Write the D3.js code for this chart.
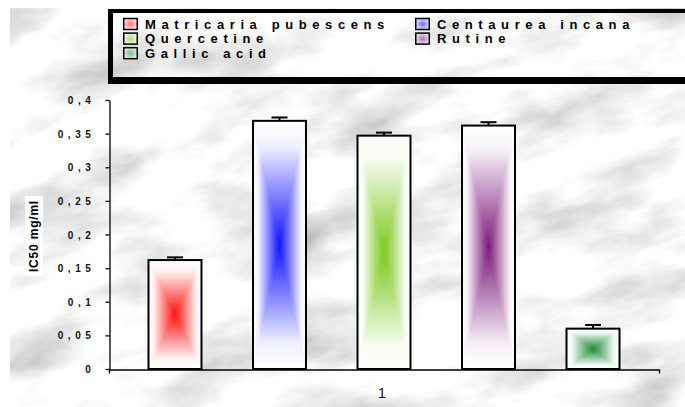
<!DOCTYPE html>
<html>
<head>
<meta charset="utf-8">
<script src="https://cdn.jsdelivr.net/npm/d3@7"></script>
<style>
  html, body { margin: 0; padding: 0; background: #fff; }
  svg { display: block; font-family: "Liberation Sans", Arial, sans-serif; }
</style>
</head>
<body>
<div id="chart"></div>
<script>
// values
var series = ["Matricaria pubescens", "Centaurea incana", "Quercetine", "Rutine", "Gallic acid"];
var values = [0.162, 0.369, 0.347, 0.362, 0.060];
var errors = [0.004, 0.005, 0.0045, 0.005, 0.0055];
var colors = ["#ff1010", "#1010ff", "#78c81a", "#7a1a7a", "#1e8a36"];
var categories = ["1"];
var yTicks = [0, 0.05, 0.1, 0.15, 0.2, 0.25, 0.3, 0.35, 0.4];
var yTickLabels = ["0", "0,05", "0,1", "0,15", "0,2", "0,25", "0,3", "0,35", "0,4"];
var yTitle = "IC50 mg/ml";

var width = 685, height = 407;
var plot = { left: 109, right: 659, top: 100, bottom: 369 };

var svg = d3.select('#chart').append('svg')
    .attr('width', width)
    .attr('height', height);

var defs = svg.append('defs');

// marble background
var marble = defs.append('filter')
    .attr('id', 'marble')
    .attr('x', 0).attr('y', 0).attr('width', 1).attr('height', 1);
marble.append('feTurbulence')
    .attr('type', 'fractalNoise')
    .attr('baseFrequency', '0.009 0.02')
    .attr('numOctaves', 5)
    .attr('seed', 11);
marble.append('feColorMatrix')
    .attr('type', 'matrix')
    .attr('values', '1.0 0 0 0 0.43  1.0 0 0 0 0.43  1.0 0 0 0 0.43  0 0 0 0 1');

defs.append('clipPath').attr('id', 'bgclip')
  .append('rect')
    .attr('x', 10).attr('y', 8)
    .attr('width', width - 10).attr('height', height - 8);

svg.append('g')
    .attr('clip-path', 'url(#bgclip)')
  .append('g')
    .attr('transform', 'rotate(-14,' + width / 2 + ',' + height / 2 + ')')
  .append('rect')
    .attr('x', -250).attr('y', -300)
    .attr('width', 1200).attr('height', 1000)
    .attr('filter', 'url(#marble)');

// rectangular "from centre" gradients, built from four triangles per bar
var dirs = { t: [0, 0, 0, 1], b: [0, 1, 0, 0], l: [0, 0, 1, 0], r: [1, 0, 0, 0] };
colors.forEach(function (c, i) {
    Object.keys(dirs).forEach(function (k) {
        var d = dirs[k];
        var g = defs.append('linearGradient')
            .attr('id', 'g' + i + k)
            .attr('x1', d[0]).attr('y1', d[1]).attr('x2', d[2]).attr('y2', d[3]);
        g.append('stop').attr('offset', 0).attr('stop-color', '#fff');
        g.append('stop').attr('offset', 0.2).attr('stop-color', d3.interpolateRgb('#fff', c)(0.06));
        g.append('stop').attr('offset', 1).attr('stop-color', c);
    });
    var rg = defs.append('radialGradient').attr('id', 'sw' + i);
    rg.append('stop').attr('offset', 0).attr('stop-color', d3.interpolateRgb('#fff', c)(0.6));
    rg.append('stop').attr('offset', 1).attr('stop-color', d3.interpolateRgb('#fff', c)(0.15));
});

var x = d3.scaleBand()
    .domain(series)
    .range([plot.left, plot.right])
    .paddingInner(0.493)
    .paddingOuter(0.378);

var xCat = d3.scaleBand()
    .domain(categories)
    .range([plot.left, plot.right]);

var y = d3.scaleLinear()
    .domain([0, 0.4])
    .range([plot.bottom, plot.top]);

// bars
var bars = svg.append('g').attr('class', 'bars')
  .selectAll('g')
  .data(values)
  .enter().append('g');

bars.each(function (v, i) {
    var g = d3.select(this);
    var x0 = x(series[i]), x1 = x0 + x.bandwidth();
    var y0 = y(v), y1 = y(0);
    var cx = (x0 + x1) / 2, cy = (y0 + y1) / 2;
    var tris = {
        t: [[x0, y0], [x1, y0], [cx, cy]],
        b: [[x0, y1], [x1, y1], [cx, cy]],
        l: [[x0, y0], [x0, y1], [cx, cy]],
        r: [[x1, y0], [x1, y1], [cx, cy]]
    };
    Object.keys(tris).forEach(function (k) {
        g.append('path')
            .attr('d', 'M' + tris[k].join('L') + 'Z')
            .attr('fill', 'url(#g' + i + k + ')')
            .attr('stroke', 'url(#g' + i + k + ')')
            .attr('stroke-width', 0.5);
    });
    g.append('rect')
        .attr('x', x0).attr('y', y0)
        .attr('width', x.bandwidth()).attr('height', y1 - y0)
        .attr('fill', 'none')
        .attr('stroke', '#000')
        .attr('stroke-width', 2);
    // error bar
    g.append('line')
        .attr('x1', cx).attr('x2', cx)
        .attr('y1', y0).attr('y2', y(v + errors[i]))
        .attr('stroke', '#000').attr('stroke-width', 2);
    g.append('line')
        .attr('x1', cx - 8).attr('x2', cx + 8)
        .attr('y1', y(v + errors[i])).attr('y2', y(v + errors[i]))
        .attr('stroke', '#000').attr('stroke-width', 2);
});

// y axis
var yAxis = d3.axisLeft(y)
    .tickValues(yTicks)
    .tickSize(4)
    .tickSizeOuter(0)
    .tickFormat(function (d, i) { return yTickLabels[i]; });

var yg = svg.append('g')
    .attr('transform', 'translate(' + (plot.left + 0.5) + ',0)')
    .call(yAxis);
yg.select('.domain').attr('stroke', '#000').attr('stroke-width', 1.3);
yg.selectAll('.tick line').attr('stroke', '#000').attr('stroke-width', 1.3);
yg.selectAll('.tick text')
    .attr('x', -14)
    .attr('dy', '0.35em')
    .attr('fill', '#111')
    .attr('font-size', 10)
    .attr('font-weight', 'bold')
    .attr('font-family', '"Liberation Sans", Arial, sans-serif')
    .style('letter-spacing', '4.6px');

// x axis
var xAxis = d3.axisBottom(xCat).tickSize(0).tickPadding(18);
var xg = svg.append('g')
    .attr('transform', 'translate(0,' + (plot.bottom + 0.5) + ')')
    .call(xAxis);
xg.select('.domain').attr('stroke', '#000').attr('stroke-width', 1.3);
xg.selectAll('.tick text')
    .attr('fill', '#222')
    .attr('font-size', 15)
    .attr('font-family', '"Liberation Sans", Arial, sans-serif')
    .attr('dx', -2);
// category boundary ticks
xg.selectAll('.edge')
    .data(xCat.range())
    .enter().append('line')
    .attr('class', 'edge')
    .attr('x1', function (d) { return d + 0.5; })
    .attr('x2', function (d) { return d + 0.5; })
    .attr('y1', 0).attr('y2', 4)
    .attr('stroke', '#000').attr('stroke-width', 1.3);

// y title on white box
var tg = svg.append('g').attr('transform', 'translate(34,236) rotate(-90)');
tg.append('rect')
    .attr('x', -40).attr('y', -9)
    .attr('width', 80).attr('height', 18)
    .attr('fill', '#fff');
tg.append('text')
    .attr('text-anchor', 'middle')
    .attr('dy', '0.36em')
    .attr('font-size', 12)
    .attr('font-weight', 'bold')
    .attr('fill', '#000')
    .style('letter-spacing', '0.8px')
    .text(yTitle);

// legend frame
var lg = svg.append('g').attr('class', 'legend');
lg.append('rect').attr('x', 108).attr('y', 9).attr('width', 600).attr('height', 4).attr('fill', '#000');
lg.append('rect').attr('x', 108).attr('y', 9).attr('width', 5).attr('height', 75).attr('fill', '#000');
lg.append('rect').attr('x', 108).attr('y', 77).attr('width', 600).attr('height', 7).attr('fill', '#000');

var colX = [123, 415];
var rowY = 28.5, rowStep = 14.6;
var items = lg.selectAll('.item')
    .data(series)
    .enter().append('g')
    .attr('class', 'item')
    .attr('transform', function (d, i) {
        return 'translate(' + colX[i % 2] + ',' + (rowY + rowStep * Math.floor(i / 2)) + ')';
    });
items.append('rect')
    .attr('x', 0.75).attr('y', -10)
    .attr('width', 13.5).attr('height', 11)
    .attr('fill', function (d, i) { return 'url(#sw' + i + ')'; })
    .attr('stroke', '#000')
    .attr('stroke-width', 1.5);
items.append('text')
    .attr('x', 22)
    .attr('font-size', 13)
    .attr('font-weight', 'bold')
    .attr('fill', '#000')
    .style('letter-spacing', '5.6px')
    .text(function (d) { return d; });
</script>
</body>
</html>
